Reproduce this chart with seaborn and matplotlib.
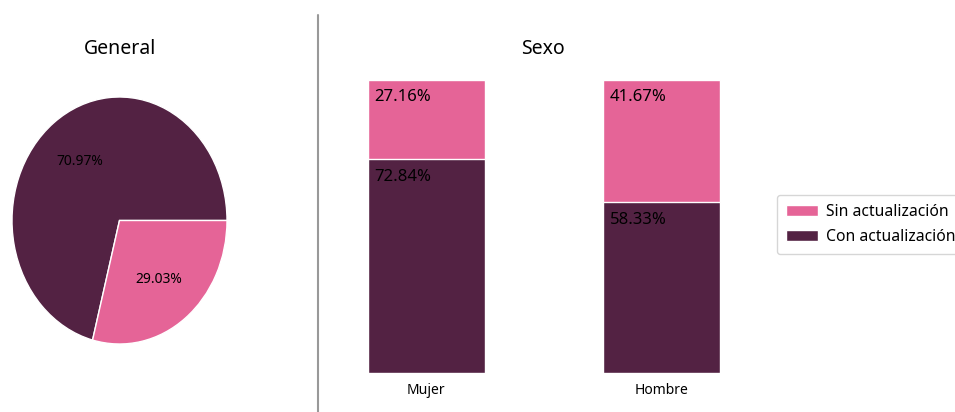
import numpy as np
import pandas as pd
import seaborn as sns
import matplotlib.pyplot as plt
from matplotlib.lines import Line2D
from matplotlib.patches import Patch

# DATA
general_labels = ["Con actualización", "Sin actualización"]
general_values = [70.97, 29.03]

sexo = ["Mujer", "Hombre"]
con_actualizacion = [72.84, 58.33]
sin_actualizacion = [27.16, 41.67]

DARK = "#532243"
PINK = "#e56497"

sns.set_style("white")
plt.rcParams["font.family"] = ["Noto Sans", "DejaVu Sans"]
plt.rcParams["text.color"] = "black"
plt.rcParams["xtick.color"] = "black"

W, H = 955, 412
fig = plt.figure(figsize=(W / 100, H / 100), dpi=100)


def box(x0, y0, x1, y1):
    # pixel box -> figure fraction
    return [x0 / W, 1 - y1 / H, (x1 - x0) / W, (y1 - y0) / H]


# PIE (GENERAL)
ax_pie = fig.add_axes(box(12, 97, 227, 344))
ax_pie.pie(general_values, colors=[DARK, PINK], autopct="%1.2f%%",
           wedgeprops={"edgecolor": "white", "linewidth": 1},
           textprops={"fontsize": 10, "color": "black"})
ax_pie.set_aspect("auto")
ax_pie.set_xlim(-1, 1)
ax_pie.set_ylim(-1, 1)
ax_pie.axis("off")
fig.text(120 / W, 1 - 49 / H, "General", ha="center", va="center", fontsize=14)

# STACKED BARS (SEXO)
df = pd.DataFrame({"sexo": sexo, "con": con_actualizacion, "sin": sin_actualizacion})
df["total"] = df["con"] + df["sin"]

ax_bar = fig.add_axes(box(350, 65, 738, 373))
sns.barplot(data=df, x="sexo", y="total", color=PINK, width=0.5, saturation=1,
            edgecolor="white", linewidth=1, ax=ax_bar)
sns.barplot(data=df, x="sexo", y="con", color=DARK, width=0.5, saturation=1,
            edgecolor="white", linewidth=1, ax=ax_bar)
ax_bar.set_xlim(-0.325, 1.325)
ax_bar.set_ylim(0, 105)
ax_bar.set_xlabel("")
ax_bar.set_ylabel("")
ax_bar.set_yticks([])
ax_bar.tick_params(axis="x", length=0, pad=7, labelsize=10, labelcolor="black")
sns.despine(ax=ax_bar, left=True, bottom=True)

for i, row in df.iterrows():
    for top, val in [(row["total"], row["sin"]), (row["con"], row["con"])]:
        ax_bar.annotate(f"{val:.2f}%", xy=(i - 0.25, top), xytext=(5, -7),
                        textcoords="offset points", ha="left", va="top",
                        fontsize=12, color="black")

fig.text(543 / W, 1 - 49 / H, "Sexo", ha="center", va="center", fontsize=14)

# LEGEND
handles = [Patch(facecolor=PINK, label="Sin actualización"),
           Patch(facecolor=DARK, label="Con actualización")]
fig.legend(handles=handles, loc="upper left", bbox_to_anchor=(777 / W, 1 - 195 / H),
           fontsize=11.3, frameon=True, handlelength=2, handletextpad=0.55,
           borderpad=0.6, labelspacing=0.55, borderaxespad=0)

# SEPARATOR
fig.add_artist(Line2D([318 / W, 318 / W], [0, 1 - 15 / H], color="#999999", linewidth=1.5))

fig.savefig("out.png", dpi=100)
